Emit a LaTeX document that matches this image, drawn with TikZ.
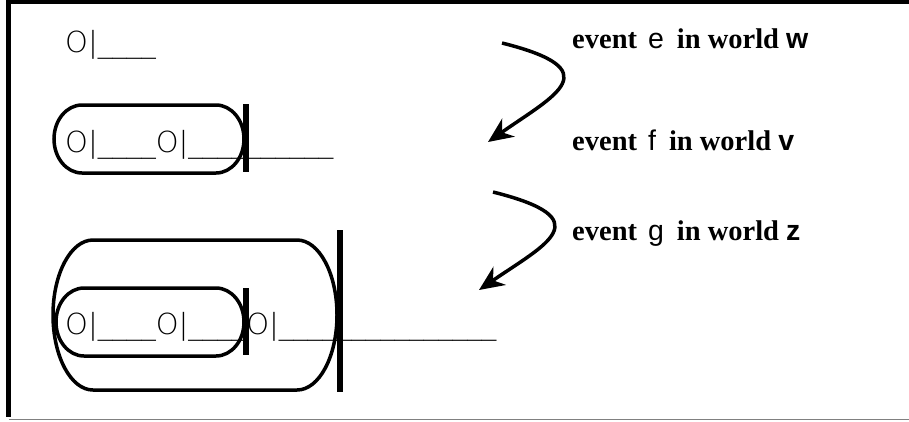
\documentclass[tikz,border=0pt]{standalone}
\usepackage{fontspec}
\setmainfont{Liberation Serif}
\newfontfamily\varfont{Liberation Sans}
\newfontfamily\seqfont{DejaVu Sans ExtraLight}
\usepackage{tikz}
\usetikzlibrary{arrows.meta}
\tikzstyle{capsule}=[draw,line width=3.5pt]
\tikzstyle{bar}=[draw,line width=6pt]
\tikzstyle{seq}=[anchor=base west,inner sep=0pt,font=\seqfont\fontsize{29}{33}\selectfont]
\tikzstyle{event}=[anchor=base west,inner sep=0pt,font=\bfseries\fontsize{28.5}{32}\selectfont]
\tikzstyle{turn}=[draw,line width=3.5pt,-{Stealth[length=25pt,width=22pt,inset=8pt]}]

\begin{document}
\begin{tikzpicture}[x=1pt,y=-1pt]
    \useasboundingbox (0,0) rectangle (909,421);
    % the frame
    \draw[line width=4.5pt] (909,2) -- (8.5,2) -- (8.5,417);
    \draw[gray,line width=1.2pt] (8.5,419.5) -- (909,419.5);

    % First we draw the world histories
    \foreach \pos/\name/\label in {{(65,52)/w1/O|\_\_\_\_},
    {(65,152)/w2/O|\_\_\_\_O|\_\_\_\_\_\_\_\_\_\_},
    {(65,334)/w3/O|\_\_\_\_O|\_\_\_\_O|\_\_\_\_\_\_\_\_\_\_\_\_\_\_\_}}
        \node[seq] (\name) at \pos {\label};

    % capsules round the histories: left x/top y/right x/half height/corner
    \foreach \xa/\ya/\xb/\ry/\rx in {54/105/244/34/28, 56/288/244/34/28, 53/240/337/75/40}
        \draw[capsule] (\xa+\rx,\ya) -- (\xb-\rx,\ya)
            arc[start angle=-90,end angle=90,x radius=\rx,y radius=\ry]
            -- (\xa+\rx,\ya+2*\ry)
            arc[start angle=90,end angle=270,x radius=\rx,y radius=\ry] -- cycle;

    % the cuts
    \foreach \x/\ya/\yb in {246/104/172, 246/288/355, 340/230/392}
        \draw[bar] (\x,\ya) -- (\x,\yb);

    % events and worlds
    \foreach \pos/\name/\evt/\world in {{(572,48)/e1/e/w}, {(572,150)/e2/f/v}, {(572,240)/e3/g/z}}
        \node[event] (\name) at \pos {event\hspace{11pt}{\varfont\mdseries \evt}\hspace{13pt}in world {\varfont \world}};

    % Connect the steps with curved arrows
    \coordinate (t1s) at (502,43);
    \coordinate (t1e) at (488,142);
    \coordinate (t2s) at (493,192);
    \coordinate (t2e) at (479,290);
    \draw[turn] (t1s) .. controls (610,70) and (555,95) .. (t1e);
    \draw[turn] (t2s) .. controls (601,219) and (546,244) .. (t2e);
\end{tikzpicture}
\end{document}
